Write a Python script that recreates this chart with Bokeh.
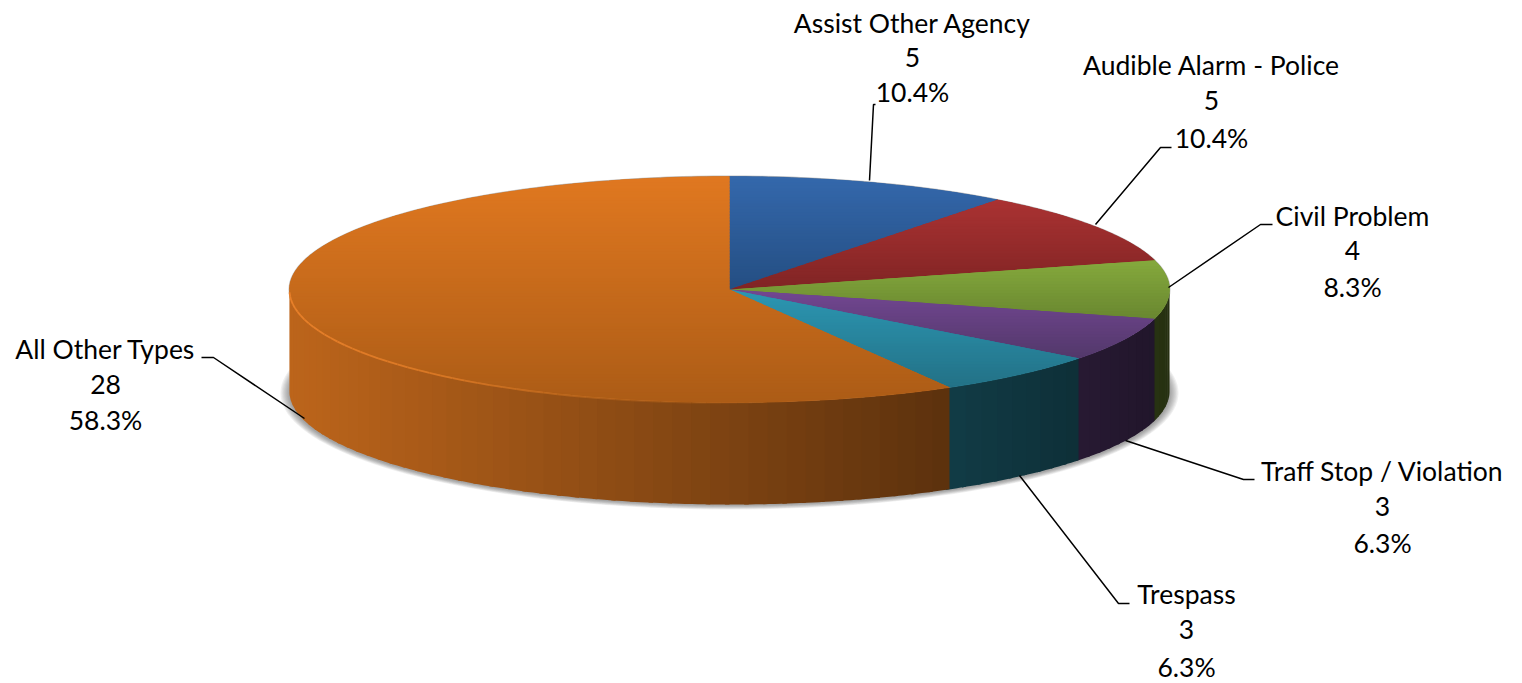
import math
from bokeh.plotting import figure
from bokeh.models import ColumnDataSource
from bokeh.core.properties import value
from bokeh.embed import file_html
from bokeh.resources import INLINE

categories = ["Assist Other Agency", "Audible Alarm - Police", "Civil Problem",
              "Traff Stop / Violation", "Trespass", "All Other Types"]
counts = [5, 5, 4, 3, 3, 28]
percents = ["10.4%", "10.4%", "8.3%", "6.3%", "6.3%", "58.3%"]

# style: (y0, colour at y0, y1, colour at y1) of the top-face shading
top_shade = [
    (176, (52, 104, 172), 289, (36, 78, 130)),
    (200, (170, 50, 50), 289, (128, 36, 36)),
    (262, (132, 168, 60), 318, (105, 135, 48)),
    (320, (100, 64, 128), 358, (82, 56, 106)),
    (330, (40, 135, 160), 385, (35, 114, 135)),
    (176, (224, 120, 32), 402, (172, 92, 22)),
]
wall_base = [(52, 104, 172), (170, 50, 50), (142, 180, 64),
             (120, 78, 155), (42, 145, 170), (224, 120, 32)]

CX, CY, RX, RY, DEPTH = 729.0, 289.0, 440.0, 113.0, 102.0
FONT = "Lato"
FSIZE = "26.5px"

label_centers = [(912, 22), (1211, 64), (1352, 215), (1382, 470), (1186, 593), (105, 348)]
label_steps = [(35, 34), (36, 37), (35, 36), (36, 36), (36, 37), (36, 35)]
leaders = [
    [(869, 180), (873, 104), (875, 104)],
    [(1095, 224), (1160, 147), (1171, 147)],
    [(1168, 287), (1260, 224), (1272, 224)],
    [(1125, 440), (1243, 479), (1254, 479)],
    [(1019, 475), (1118, 603), (1129, 603)],
    [(304, 418), (213, 357), (201, 357)],
]

def pt(deg, dy=0.0, rx=RX, ry=RY, cy=CY):
    a = math.radians(deg)
    return CX + rx * math.sin(a), cy - ry * math.cos(a) + dy

def hexc(c):
    return "#%02x%02x%02x" % tuple(max(0, min(255, int(round(v)))) for v in c)

def clip(poly, y, keep_below):
    out = []
    n = len(poly)
    for i in range(n):
        a, b = poly[i], poly[(i + 1) % n]
        ina = a[1] >= y if keep_below else a[1] <= y
        inb = b[1] >= y if keep_below else b[1] <= y
        if ina:
            out.append(a)
        if ina != inb:
            t = (y - a[1]) / (b[1] - a[1])
            out.append((a[0] + t * (b[0] - a[0]), y))
    return out

p = figure(width=1522, height=683, output_backend="svg", toolbar_location=None,
           x_range=(0, 1522), y_range=(683, 0), min_border=0,
           x_axis_type=None, y_axis_type=None)
p.outline_line_color = None
p.grid.visible = False
p.background_fill_color = "white"
p.border_fill_color = "white"

# soft shadow below the disc
for i in range(8):
    xs, ys = [], []
    for d in range(0, 360, 2):
        x, y = pt(d, rx=RX + 9 - i * 1.2, ry=RY + 3.5 - i * 0.6, cy=CY + DEPTH + 1.5)
        xs.append(x); ys.append(y)
    p.patch(xs, ys, fill_color="#555555", fill_alpha=0.09, line_color=None)

# thin soft halo round the top face
xs, ys = zip(*[pt(d, rx=RX + 1, ry=RY + 1) for d in range(0, 360, 2)])
p.patch(list(xs), list(ys), fill_color="#888888", fill_alpha=0.5, line_color=None)

total = sum(counts)
edges = [0.0]
for c in counts:
    edges.append(edges[-1] + 360.0 * c / total)

# side walls: bands drawn with increasing angle, each overlapped by the next
wx, wy, wc = [], [], []
for k in range(len(counts)):
    a0, a1 = max(edges[k], 90.0), min(edges[k + 1], 270.0)
    if a1 <= a0:
        continue
    n = max(1, int((a1 - a0) / 2.5))
    for j in range(n):
        d0 = a0 + (a1 - a0) * j / n
        d1 = min(270.0, a0 + (a1 - a0) * (j + 1) / n + 0.6)
        steps = [d0 + (d1 - d0) * s / 4 for s in range(5)]
        top = [pt(d) for d in steps]
        bot = [pt(d, DEPTH) for d in reversed(steps)]
        poly = top + bot
        xm = pt((d0 + d1) / 2)[0]
        f = 0.84 - 0.43 * (xm - 289) / 660
        wx.append([q[0] for q in poly]); wy.append([q[1] for q in poly])
        wc.append(hexc([v * f for v in wall_base[k]]))
p.patches("x", "y", source=ColumnDataSource(dict(x=wx, y=wy, c=wc)),
          fill_color="c", line_color=None)

# top faces: a solid underlay then shaded horizontal bands
ux, uy, uc = [], [], []
tx, ty, tc = [], [], []
for k in range(len(counts)):
    a0, a1 = edges[k], edges[k + 1]
    n = max(2, int(a1 - a0))
    poly = [(CX, CY)] + [pt(a0 + (a1 - a0) * j / n) for j in range(n + 1)]
    ymin = min(q[1] for q in poly); ymax = max(q[1] for q in poly)
    y0, c0, y1, c1 = top_shade[k]
    shade = lambda yy: [c0[i] + (yy - y0) / (y1 - y0) * (c1[i] - c0[i]) for i in range(3)]
    ux.append([q[0] for q in poly]); uy.append([q[1] for q in poly])
    uc.append(hexc(shade((ymin + ymax) / 2)))
    y = ymin
    while y < ymax:
        band = clip(clip(poly, y, True), y + 4.5, False)
        if len(band) >= 3:
            tx.append([q[0] for q in band]); ty.append([q[1] for q in band])
            tc.append(hexc(shade(y + 1.5)))
        y += 3
p.patches("x", "y", source=ColumnDataSource(dict(x=ux, y=uy, c=uc)),
          fill_color="c", line_color="c", line_width=0.6)
p.patches("x", "y", source=ColumnDataSource(dict(x=tx, y=ty, c=tc)),
          fill_color="c", line_color=None)

# light rim along the front edge of the large slice
rx_, ry_, rc_, ra_ = [], [], [], []
for d in range(175, 271, 2):
    a, b = pt(d - 2), pt(d)
    lit = min(1.0, max(0.0, (a[0] - 289) / 380.0))
    rx_.append([a[0], b[0]]); ry_.append([a[1] + 0.8, b[1] + 0.8])
    rc_.append(hexc((232 - 40 * lit, 128 - 22 * lit, 42 - 14 * lit)))
    ra_.append(min(1.0, (d - 175) / 45.0))
p.multi_line("x", "y", source=ColumnDataSource(dict(x=rx_, y=ry_, c=rc_, a=ra_)),
             line_color="c", line_alpha="a", line_width=1.8)

# leader lines
p.multi_line([[q[0] for q in l] for l in leaders], [[q[1] for q in l] for l in leaders],
             line_color="black", line_width=1.5)

# labels
lx, ly, lt = [], [], []
for k, name in enumerate(categories):
    x, y = label_centers[k]
    s1, s2 = label_steps[k]
    lx += [x, x, x]
    ly += [y, y + s1, y + s1 + s2]
    lt += [name, str(counts[k]), percents[k]]
p.text(lx, ly, text=lt, text_font=value(FONT), text_font_size=value(FSIZE),
       text_color="black", text_align="center", text_baseline="middle")

open("out.html", "w").write(file_html(p, INLINE))
